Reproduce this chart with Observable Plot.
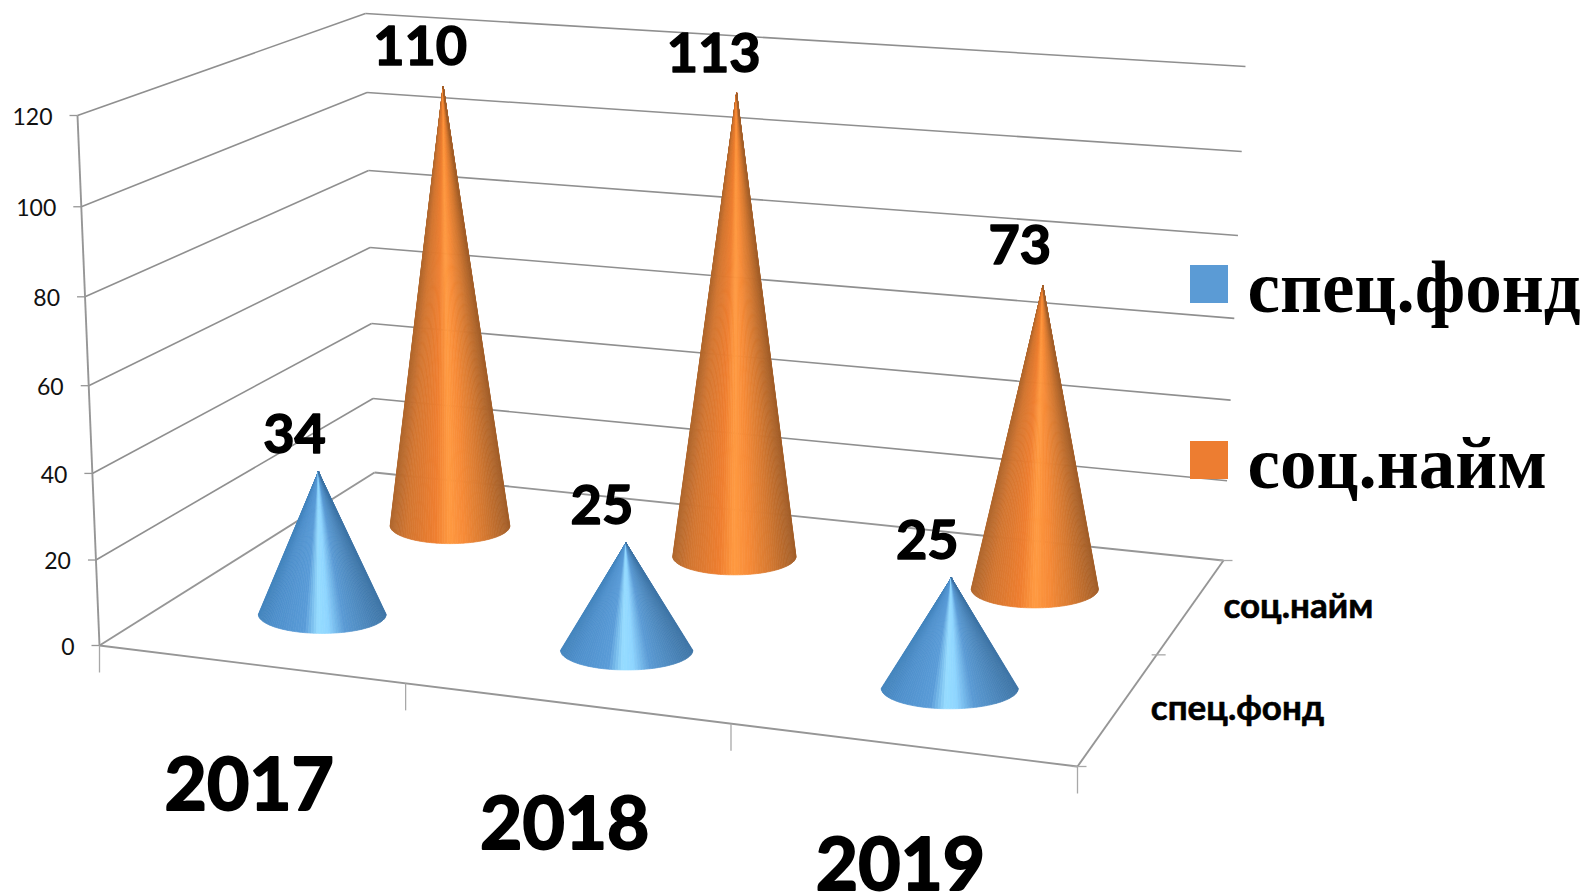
<!DOCTYPE html>
<html>
<head>
<meta charset="utf-8">
<style>html,body{margin:0;padding:0;background:#fff}svg{display:block}</style>
<script src="https://cdn.jsdelivr.net/npm/d3@7"></script>
<script src="https://cdn.jsdelivr.net/npm/@observablehq/plot@0.6"></script>
</head>
<body>
<div id="chart"></div>
<script>
// ---- data ----
const years = ["2017", "2018", "2019"];
const seriesNames = ["спец.фонд", "соц.найм"];
const specFund = [34, 25, 25];
const socHire = [110, 113, 73];
const valueTicks = [0, 20, 40, 60, 80, 100, 120];

// ---- camera of the 3D box (pixel corners of its floor and ceiling) ----
const floorQuad = [[99, 645], [1077, 766], [1223, 560], [374, 472]];
const ceilQuad = [[77, 115], [1088, 188], [1245, 66], [365, 13]];
const depthBend = 1.04;
const sans = "Lato, 'Open Sans', sans-serif";
const serif = "'Liberation Serif', serif";

function homography([[x0, y0], [x1, y1], [x2, y2], [x3, y3]]) {
  const dx1 = x1 - x2, dx2 = x3 - x2, dx3 = x0 - x1 + x2 - x3;
  const dy1 = y1 - y2, dy2 = y3 - y2, dy3 = y0 - y1 + y2 - y3;
  const den = dx1 * dy2 - dx2 * dy1;
  const g = (dx3 * dy2 - dx2 * dy3) / den, h = (dx1 * dy3 - dx3 * dy1) / den;
  const a = x1 - x0 + g * x1, b = x3 - x0 + h * x3, d = y1 - y0 + g * y1, e = y3 - y0 + h * y3;
  return (s, t) => {
    const q = g * s + h * t + 1;
    return [(a * s + b * t + x0) / q, (d * s + e * t + y0) / q];
  };
}
const floorAt = homography(floorQuad), ceilAt = homography(ceilQuad);
// u: category units, v: series units, w: chart value
function P(u, v, w) {
  const s = u / years.length, t = v / seriesNames.length;
  const F = floorAt(s, t), C = ceilAt(s, t);
  const k = w / 120, m = k / (depthBend + (1 - depthBend) * k);
  return [F[0] + (C[0] - F[0]) * m, F[1] + (C[1] - F[1]) * m];
}

// ---- cones as fans of shaded wedges ----
const shades = [
  {at: [0, .12, .36, .47, .55, .68, .88, 1], colors: ["#4384bd", "#4f90cc", "#5a9cd8", "#96dcff", "#8fd6ff", "#5b9bd5", "#4a84b8", "#3d74a6"]},
  {at: [0, .14, .38, .5, .62, .8, 1], colors: ["#b0672e", "#d27631", "#ef7f30", "#ff9a42", "#f78b38", "#d47931", "#a35f2a"]}
];
const nWedges = 72, coneRadius = 0.216, coneTaper = 0.024, squash = 0.3;
const wedges = [], labels = [];
[specFund, socHire].forEach((vals, si) => {
  const shade = d3.scaleLinear().domain(shades[si].at).range(shades[si].colors);
  vals.forEach((value, yi) => {
    const u = yi + .5, v = si + .5;
    const [cx, cy] = P(u, v, 0);
    const apex = P(u, v, value);
    const rx = coneRadius * (1 - coneTaper * yi) * (P(u + .5, v, 0)[0] - P(u - .5, v, 0)[0]);
    const ry = rx * squash;
    const rim = a => [cx - rx * Math.cos(a), cy + ry * Math.sin(a)];
    for (let i = 0; i < nWedges; i++) {
      const a0 = Math.PI * i / nWedges, a1 = Math.PI * (i + 1) / nWedges;
      const frac = (1 - Math.cos((a0 + a1) / 2)) / 2;
      const color = shade(frac), id = `${si}-${yi}-${i}`;
      [apex, rim(a0), rim(a1), apex].forEach(p => wedges.push({p, id, color, order: si}));
    }
    labels.push({value, apex, si});
  });
});
// back row first
const wedgeRows = [...wedges.filter(d => d.order === 1), ...wedges.filter(d => d.order === 0)];

// ---- box lines ----
const seg = (rows, opts) => Plot.link(rows, {
  x1: d => d[0][0], y1: d => d[0][1], x2: d => d[1][0], y2: d => d[1][1], ...opts
});
const nY = years.length, nS = seriesNames.length;
const gridRows = valueTicks.slice(1).flatMap(w => [[P(0, 0, w), P(0, nS, w)], [P(0, nS, w), P(nY, nS, w)]]);
const floorRows = [
  [P(0, 0, 0), P(nY, 0, 0)], [P(nY, 0, 0), P(nY, nS, 0)],
  [P(0, 0, 0), P(0, nS, 0)], [P(0, nS, 0), P(nY, nS, 0)],
  [P(0, 0, 0), P(0, 0, 120)]
];
const off = (p, dx, dy) => [p[0] + dx, p[1] + dy];
const valueTickRows = valueTicks.map(w => [P(0, 0, w), off(P(0, 0, w), -8, 0)]);
const catTickRows = d3.range(nY + 1).map(u => [P(u, 0, 0), off(P(u, 0, 0), 0, 27)]);
const depthTickRows = d3.range(nS + 1).map(v => [off(P(nY, v, 0), -5, 0), off(P(nY, v, 0), 9, 0)]);

const legendRows = seriesNames.map((name, i) => ({name, i}));
const legendTop = [265, 441], legendBase = [311, 487];

const plot = Plot.plot({
  width: 1592, height: 894, margin: 0,
  x: {domain: [0, 1592], range: [0, 1592], axis: null},
  y: {domain: [0, 894], range: [0, 894], axis: null},
  color: {type: "identity"},
  style: {background: "#fff"},
  marks: [
    seg(gridRows, {stroke: "#8f8f8f", strokeWidth: 1.6}),
    seg(floorRows, {stroke: "#969696", strokeWidth: 1.9}),
    seg(valueTickRows, {stroke: "#969696", strokeWidth: 1.3}),
    seg(catTickRows, {stroke: "#a8a8a8", strokeWidth: 1.3}),
    seg(depthTickRows, {stroke: "#a8a8a8", strokeWidth: 1.3}),
    Plot.line(wedgeRows, {
      x: d => d.p[0], y: d => d.p[1], z: "id", fill: "color", stroke: "color",
      strokeWidth: 0.7, curve: "linear"
    }),
    Plot.text(valueTicks, {
      x: w => P(0, 0, w)[0], y: w => P(0, 0, w)[1], text: w => String(w),
      textAnchor: "end", dx: -25, dy: 2, fontFamily: sans, fontSize: 23, fill: "#111"
    }),
    Plot.text(labels, {
      x: d => d.apex[0] - (d.si === 0 ? 1 : 0), y: d => d.apex[1] + (d.si === 0 ? 3 : 0), text: d => String(d.value),
      dx: -23, dy: -39, fontFamily: sans, fontWeight: 700, fontSize: 54, fill: "#000", stroke: "#000", strokeWidth: 1.5
    }),
    Plot.text(years, {
      x: (y, i) => P(i + .5, 0, 0)[0], y: (y, i) => P(i + .5, 0, 0)[1], text: y => y,
      dx: -1, dy: 122, fontFamily: sans, fontWeight: 700, fontSize: 73, fill: "#000", stroke: "#000", strokeWidth: 2
    }),
    Plot.text(seriesNames, {
      x: (n, i) => P(nY, i + .5, 0)[0], y: (n, i) => P(nY, i + .5, 0)[1], text: n => n,
      textAnchor: "start", dx: 32, dy: 1, fontFamily: sans, fontWeight: 700, fontSize: 35, fill: "#000", stroke: "#000", strokeWidth: 0.6
    }),
    Plot.rect(legendRows, {
      x1: 1190, x2: 1228, y1: d => legendTop[d.i], y2: d => legendTop[d.i] + 38,
      fill: d => ["#5b9bd5", "#ed7d31"][d.i]
    }),
    Plot.text(legendRows, {
      x: 1247, y: d => legendBase[d.i], text: "name", textAnchor: "start", lineAnchor: "bottom",
      fontFamily: serif, fontWeight: 700, fontSize: 73, fill: "#000"
    })
  ]
});
document.getElementById("chart").append(plot);
</script>
</body>
</html>
